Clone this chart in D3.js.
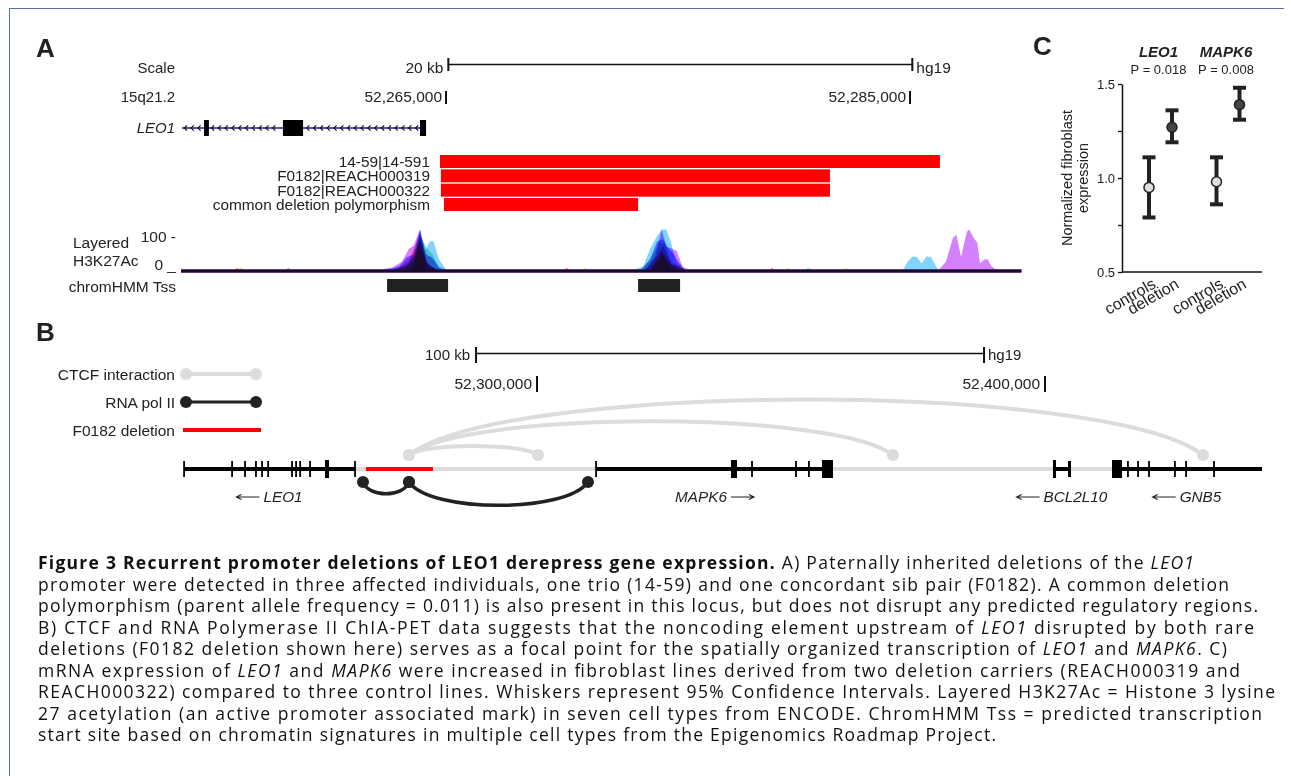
<!DOCTYPE html>
<html>
<head>
<meta charset="utf-8">
<script src="https://cdnjs.cloudflare.com/ajax/libs/d3/7.8.5/d3.min.js"></script>
<style>
  body { margin: 0; background: #fff; }
  svg { display: block; }
  text { font-family: "Liberation Sans", Arial, sans-serif; fill: #222; }
  .cap { font-family: "Open Sans", sans-serif; font-size: 17.5px; fill: #111; white-space: pre; }
</style>
</head>
<body>
<svg id="fig"></svg>
<script>
// ---------- panel A data (positions in kb on chr15) ----------
const coordTicksA = [52265, 52285];
const leo1A = [52253.62, 52264.14];
const leo1ExonsA = [[52254.57, 52254.78], [52257.97, 52258.84], [52263.88, 52264.14]];
const delLabels = ["14-59|14-591", "F0182|REACH000319", "F0182|REACH000322", "common deletion polymorphism"];
const delStart = [52264.74, 52264.78, 52264.78, 52264.91];
const delEnd = [52286.29, 52281.55, 52281.55, 52273.28];
const tssA = [[52262.46, 52265.09], [52273.28, 52275.09]];

// layered H3K27Ac, ENCODE cell types: [kb, signal]
const cellTypes = ["GM12878", "H1-hESC", "HSMM", "HUVEC", "K562", "NHEK", "NHLF"];
const cellColors = ["#ff8080", "#ffd480", "#78ebcc", "#80d4ff", "#8080ff", "#d480ff", "#ff80d4"];
const acGM12878 = [[52253.58,7],[52255.9,7],[52256.0,11],[52256.1,7],[52262.8,7],[52263.4,20],[52263.88,75],[52264.2,18],[52264.6,7],[52270.1,7],[52270.2,11],[52270.3,7],[52273.8,7],[52274.3,48],[52274.7,18],[52275.0,14],[52275.3,7],[52278.95,7],[52279.05,11],[52279.15,7],[52289.8,7]];
const acH1 = [[52253.58,7],[52256.05,7],[52256.15,11],[52256.3,7],[52263.5,7],[52263.88,55],[52264.2,8],[52264.5,7],[52270.9,7],[52271.0,11],[52271.1,7],[52273.9,7],[52274.35,40],[52274.7,7],[52279.65,7],[52279.75,11],[52279.85,7],[52282.15,7],[52282.25,11],[52282.35,7],[52289.8,7]];
const acHSMM = [[52253.58,7],[52263.2,7],[52263.6,25],[52263.88,85],[52264.2,55],[52264.45,40],[52264.7,10],[52264.9,7],[52273.5,7],[52273.9,40],[52274.2,70],[52274.45,65],[52274.7,20],[52275.0,7],[52280.5,7],[52280.6,11],[52280.75,7],[52289.8,7]];
const acHUVEC = [[52253.58,7],[52262.4,7],[52263.2,14],[52263.7,40],[52263.88,95],[52264.1,50],[52264.3,72],[52264.45,74],[52264.7,30],[52265.0,7],[52273.1,7],[52273.5,14],[52273.8,55],[52274.1,85],[52274.3,100],[52274.5,100],[52274.7,70],[52274.9,25],[52275.2,7],[52284.7,7],[52284.9,25],[52285.1,37],[52285.3,36],[52285.5,21],[52285.7,37],[52285.9,36],[52286.2,7],[52289.8,7]];
const acK562 = [[52253.58,7],[52262.6,7],[52263.0,15],[52263.3,35],[52263.6,42],[52263.88,100],[52264.15,42],[52264.4,35],[52264.7,12],[52265.0,7],[52273.4,7],[52273.8,30],[52274.1,72],[52274.35,78],[52274.6,55],[52274.8,45],[52275.0,25],[52275.3,7],[52289.8,7]];
const acNHEK = [[52253.58,7],[52262.2,7],[52262.7,12],[52263.1,25],[52263.4,55],[52263.6,62],[52263.88,100],[52264.1,30],[52264.4,10],[52264.8,7],[52273.6,7],[52274.0,35],[52274.3,100],[52274.5,60],[52274.75,55],[52274.95,50],[52275.2,12],[52275.5,7],[52286.25,7],[52286.55,25],[52286.85,80],[52287.0,88],[52287.2,36],[52287.45,95],[52287.55,100],[52287.75,80],[52287.9,69],[52288.02,21],[52288.2,30],[52288.35,31],[52288.5,15],[52288.7,7],[52289.8,7]];
const acNHLF = [[52253.58,7],[52258.1,7],[52258.2,11],[52258.3,7],[52262.9,7],[52263.4,30],[52263.88,88],[52264.2,22],[52264.6,7],[52273.6,7],[52274.1,40],[52274.35,62],[52274.7,25],[52275.0,15],[52275.3,7],[52289.8,7]];
const acSeries = [acGM12878, acH1, acHSMM, acHUVEC, acK562, acNHEK, acNHLF];

// ---------- panel B data ----------
const coordTicksB = [52300, 52400];
const geneNamesB = ["LEO1", "MAPK6", "BCL2L10", "GNB5"];
const geneStartB = [52230.51, 52311.61, 52401.57, 52413.19];
const geneEndB = [52264.17, 52358.27, 52405.12, 52442.72];
const geneStrandB = ["-", "+", "-", "-"];
const exonsB = [
  [52230.35, 52230.7], [52239.8, 52240.15], [52242.35, 52242.7], [52244.5, 52244.85], [52245.7, 52246.05],
  [52246.9, 52247.25], [52251.6, 52251.95], [52252.4, 52252.75], [52253.2, 52253.55], [52255.15, 52255.5],
  [52258.27, 52259.06], [52264.0, 52264.35],
  [52311.45, 52311.8], [52338.19, 52339.37], [52342.15, 52342.5], [52350.8, 52351.15], [52353.35, 52353.7], [52356.1, 52358.27],
  [52401.57, 52402.17], [52404.53, 52405.12],
  [52413.19, 52415.16], [52416.15, 52416.5], [52418.15, 52418.5], [52420.3, 52420.65], [52425.4, 52425.75], [52427.6, 52427.95], [52433.1, 52433.45]
];
const trackB = [52230.51, 52442.72];
const delB = [52266.34, 52279.53];
const ctcfLinks = [[52274.80, 52300.20], [52274.80, 52370.08], [52274.80, 52431.10]];
const polLinks = [[52265.75, 52274.80], [52274.80, 52310.04]];
const legendB = ["CTCF interaction", "RNA pol II", "F0182 deletion"];

// ---------- panel C data ----------
const cGenes = ["LEO1", "MAPK6"];
const cPvals = ["P = 0.018", "P = 0.008"];
const cGroups = ["controls", "deletion"];
const cMean = [0.95, 1.27, 0.98, 1.39];
const cLow = [0.79, 1.19, 0.86, 1.31];
const cHigh = [1.11, 1.36, 1.11, 1.48];
const cTicks = [0.5, 0.75, 1.0, 1.25, 1.5];

// ---------- caption ----------
const capLines = [
  [["b", "Figure 3 Recurrent promoter deletions of LEO1 derepress gene expression."], ["", " A) Paternally inherited deletions of the "], ["i", "LEO1"]],
  [["", "promoter were detected in three affected individuals, one trio (14-59) and one concordant sib pair (F0182). A common deletion"]],
  [["", "polymorphism (parent allele frequency = 0.011) is also present in this locus, but does not disrupt any predicted regulatory regions."]],
  [["", "B) CTCF and RNA Polymerase II ChIA-PET data suggests that the noncoding element upstream of "], ["i", "LEO1"], ["", " disrupted by both rare"]],
  [["", "deletions (F0182 deletion shown here) serves as a focal point for the spatially organized transcription of "], ["i", "LEO1"], ["", " and "], ["i", "MAPK6"], ["", ". C)"]],
  [["", "mRNA expression of "], ["i", "LEO1"], ["", " and "], ["i", "MAPK6"], ["", " were increased in fibroblast lines derived from two deletion carriers (REACH000319 and"]],
  [["", "REACH000322) compared to three control lines. Whiskers represent 95% Confidence Intervals. Layered H3K27Ac = Histone 3 lysine"]],
  [["", "27 acetylation (an active promoter associated mark) in seven cell types from ENCODE. ChromHMM Tss = predicted transcription"]],
  [["", "start site based on chromatin signatures in multiple cell types from the Epigenomics Roadmap Project."]]
];
const capEnds = [1194, 1229, 1258, 1254, 1227, 1240, 1275, 1262, 996];

// ================================================================
const width = 1291, height = 776;
const svg = d3.select("#fig").attr("width", width).attr("height", height);
svg.append("rect").attr("width", width).attr("height", height).attr("fill", "#fff");
svg.append("path").attr("d", "M9.5,776V8.5H1284").attr("fill", "none").attr("stroke", "#56739f");

const label = (g, txt, x, y, anchor, size, extra) => {
  const t = g.append("text").text(txt).attr("x", x).attr("y", y)
    .attr("text-anchor", anchor || "start").style("font-size", (size || 15) + "px");
  if (extra) extra(t);
  return t;
};
const bold = t => t.style("font-weight", "bold");
const ital = t => t.style("font-style", "italic");

// ---------------- Panel A ----------------
const xA = d3.scaleLinear().domain([52265, 52285]).range([446, 910]);
const yA = d3.scaleLinear().domain([0, 100]).range([272.5, 229.5]);
const gA = svg.append("g");

label(gA, "A", 36, 57, "start", 26, bold);
label(gA, "Scale", 175, 73, "end");
label(gA, "15q21.2", 175, 102, "end");
label(gA, "LEO1", 175, 133, "end", 15, ital);

// scale bar
const sb = [52265.1, 52285.1];
gA.append("line").attr("x1", xA(sb[0])).attr("x2", xA(sb[1])).attr("y1", 64.5).attr("y2", 64.5)
  .attr("stroke", "#111").attr("stroke-width", 1.5);
sb.forEach(v => gA.append("line").attr("x1", xA(v)).attr("x2", xA(v)).attr("y1", 58).attr("y2", 71)
  .attr("stroke", "#111").attr("stroke-width", 2));
label(gA, "20 kb", xA(sb[0]) - 5, 73, "end", 15.5);
label(gA, "hg19", xA(sb[1]) + 4, 73, "start", 15.5);

coordTicksA.forEach(v => {
  gA.append("line").attr("x1", xA(v)).attr("x2", xA(v)).attr("y1", 91).attr("y2", 104)
    .attr("stroke", "#111").attr("stroke-width", 2);
  label(gA, d3.format(",")(v * 1000), xA(v) - 4, 102, "end", 15.5);
});

// LEO1 gene model
gA.append("line").attr("x1", xA(leo1A[0])).attr("x2", xA(leo1A[1])).attr("y1", 128).attr("y2", 128)
  .attr("stroke", "#1a1a8c").attr("stroke-width", 1.3);
for (let x = xA(leo1A[0]) + 3; x < xA(leo1A[1]) - 3; x += 6.8) {
  const inExon = leo1ExonsA.some(e => x > xA(e[0]) - 3 && x < xA(e[1]) + 3);
  if (inExon) continue;
  gA.append("path").attr("d", `M${x + 2},${125.3}L${x - 0.8},128L${x + 2},${130.7}`)
    .attr("fill", "none").attr("stroke", "#111").attr("stroke-width", 1.1);
}
leo1ExonsA.forEach(e => gA.append("rect").attr("x", xA(e[0])).attr("width", Math.max(3, xA(e[1]) - xA(e[0])))
  .attr("y", 120).attr("height", 16).attr("fill", "#000"));

// deletions
const rowY = d3.scaleLinear().domain([0, 3]).range([155, 198]);
delLabels.forEach((d, i) => {
  gA.append("rect").attr("x", xA(delStart[i])).attr("width", xA(delEnd[i]) - xA(delStart[i]))
    .attr("y", rowY(i)).attr("height", 13).attr("fill", "#ff0000");
  label(gA, d, 430, rowY(i) + 12, "end", 15.4);
});

// layered H3K27Ac
label(gA, "Layered", 73, 248, "start", 15.5);
label(gA, "H3K27Ac", 73, 266, "start", 15.5);
label(gA, "100 -", 176, 242, "end", 15.5);
label(gA, "0 _", 176, 270, "end", 15.5);
label(gA, "chromHMM Tss", 176, 292, "end", 15.5);

const area = d3.area().x(d => xA(d[0])).y0(yA(0)).y1(d => yA(d[1])).curve(d3.curveLinear);
const gLayers = gA.append("g");
acSeries.forEach((s, i) => {
  gLayers.append("path").datum(s).attr("d", area).attr("fill", cellColors[i])
    .style("mix-blend-mode", "multiply").attr("data-cell", cellTypes[i]);
});

tssA.forEach(t => gA.append("rect").attr("x", xA(t[0])).attr("width", xA(t[1]) - xA(t[0]))
  .attr("y", 279).attr("height", 13).attr("fill", "#222"));

// ---------------- Panel B ----------------
const xB = d3.scaleLinear().domain([52300, 52400]).range([537, 1045]);
const gB = svg.append("g");
label(gB, "B", 36, 341, "start", 26, bold);

const sbB = [52288, 52388];
gB.append("line").attr("x1", xB(sbB[0])).attr("x2", xB(sbB[1])).attr("y1", 353.5).attr("y2", 353.5)
  .attr("stroke", "#111").attr("stroke-width", 1.5);
sbB.forEach(v => gB.append("line").attr("x1", xB(v)).attr("x2", xB(v)).attr("y1", 347).attr("y2", 363)
  .attr("stroke", "#111").attr("stroke-width", 2));
label(gB, "100 kb", xB(sbB[0]) - 6, 360, "end", 15);
label(gB, "hg19", xB(sbB[1]) + 4, 360, "start", 15);
coordTicksB.forEach(v => {
  gB.append("line").attr("x1", xB(v)).attr("x2", xB(v)).attr("y1", 376).attr("y2", 392)
    .attr("stroke", "#111").attr("stroke-width", 2);
  label(gB, d3.format(",")(v * 1000), xB(v) - 5, 389, "end", 15.5);
});

// legend
const legY = d3.scaleLinear().domain([0, 2]).range([374, 430]);
legendB.forEach((d, i) => label(gB, d, 175, legY(i) + 6, "end", 15.5));
gB.append("line").attr("x1", 186).attr("x2", 256).attr("y1", legY(0)).attr("y2", legY(0))
  .attr("stroke", "#dcdcdc").attr("stroke-width", 4);
[186, 256].forEach(x => gB.append("circle").attr("cx", x).attr("cy", legY(0)).attr("r", 6).attr("fill", "#dcdcdc"));
gB.append("line").attr("x1", 186).attr("x2", 256).attr("y1", legY(1)).attr("y2", legY(1))
  .attr("stroke", "#222").attr("stroke-width", 3);
[186, 256].forEach(x => gB.append("circle").attr("cx", x).attr("cy", legY(1)).attr("r", 6).attr("fill", "#222"));
gB.append("line").attr("x1", 183).attr("x2", 261).attr("y1", legY(2)).attr("y2", legY(2))
  .attr("stroke", "#ff0000").attr("stroke-width", 4);

const trackY = 469;
const arcPath = (x1, x2, y0, h) => {
  const s = x2 - x1;
  return `M${x1},${y0}C${x1 + s * 0.12},${y0 - h * 1.33} ${x2 - s * 0.12},${y0 - h * 1.33} ${x2},${y0}`;
};
const ctcfH = d3.scaleLinear().domain([0, 100]).range([0, 7]);
const polH = d3.scaleSqrt().domain([0, 100]).range([0, 17.5]);

// CTCF arcs above
ctcfLinks.forEach(l => gB.append("path")
  .attr("d", arcPath(xB(l[0]), xB(l[1]), 455, ctcfH(xB(l[1]) - xB(l[0]))))
  .attr("fill", "none").attr("stroke", "#dcdcdc").attr("stroke-width", 4));
ctcfLinks.forEach(l => [l[0], l[1]].forEach(v =>
  gB.append("circle").attr("cx", xB(v)).attr("cy", 455).attr("r", 6).attr("fill", "#dcdcdc")));

// track
gB.append("line").attr("x1", xB(trackB[0])).attr("x2", xB(trackB[1])).attr("y1", trackY).attr("y2", trackY)
  .attr("stroke", "#dcdcdc").attr("stroke-width", 4);
geneNamesB.forEach((g, i) => gB.append("line").attr("x1", xB(geneStartB[i])).attr("x2", xB(geneEndB[i]))
  .attr("y1", trackY).attr("y2", trackY).attr("stroke", "#000").attr("stroke-width", 4));
gB.append("line").attr("x1", xB(delB[0])).attr("x2", xB(delB[1])).attr("y1", trackY).attr("y2", trackY)
  .attr("stroke", "#ff0000").attr("stroke-width", 4);
exonsB.forEach(e => {
  const w = xB(e[1]) - xB(e[0]);
  const big = w > 3;
  gB.append("rect").attr("x", xB(e[0])).attr("width", Math.max(1.8, w))
    .attr("y", big ? 460 : 461).attr("height", big ? 18 : 16).attr("fill", "#000");
});

// RNA pol II arcs below
polLinks.forEach(l => gB.append("path")
  .attr("d", arcPath(xB(l[0]), xB(l[1]), 482, -polH(xB(l[1]) - xB(l[0]))))
  .attr("fill", "none").attr("stroke", "#222").attr("stroke-width", 3.5));
polLinks.forEach(l => [l[0], l[1]].forEach(v =>
  gB.append("circle").attr("cx", xB(v)).attr("cy", 482).attr("r", 6).attr("fill", "#222")));

// gene labels with strand arrows
geneNamesB.forEach((g, i) => {
  const cx = (xB(geneStartB[i]) + xB(geneEndB[i])) / 2;
  const t = label(gB, g, 0, 502, "start", 15.3, ital);
  const tw = t.node().getComputedTextLength();
  const aw = 23, gap = 4, total = aw + gap + tw;
  const left = cx - total / 2;
  let a0, a1;
  if (geneStrandB[i] === "-") {
    a0 = left; a1 = left + aw; t.attr("x", left + aw + gap);
    gB.append("path").attr("d", `M${a1},497H${a0}M${a0 + 5},494.5L${a0},497L${a0 + 5},499.5`)
      .attr("fill", "none").attr("stroke", "#222").attr("stroke-width", 1.2);
  } else {
    t.attr("x", left); a0 = left + tw + gap; a1 = a0 + aw;
    gB.append("path").attr("d", `M${a0},497H${a1}M${a1 - 5},494.5L${a1},497L${a1 - 5},499.5`)
      .attr("fill", "none").attr("stroke", "#222").attr("stroke-width", 1.2);
  }
});

// ---------------- Panel C ----------------
const gC = svg.append("g");
label(gC, "C", 1033, 55, "start", 26, bold);
const x0 = d3.scalePoint().domain(cGenes).range([1160.5, 1228]);
const x1 = d3.scalePoint().domain(cGroups).range([-11.5, 11.5]);
const yC = d3.scaleLinear().domain([0.5, 1.5]).range([272, 84]);

cGenes.forEach((g, i) => {
  label(gC, g, x0(g) - 2, 57, "middle", 15, t => t.style("font-weight", "bold").style("font-style", "italic"));
  label(gC, cPvals[i], x0(g) - 2, 74, "middle", 13);
});

const yAxis = d3.axisLeft(yC).tickValues(cTicks)
  .tickFormat(d => (Math.abs(d * 2 - Math.round(d * 2)) < 1e-9 ? d3.format(".1f")(d) : ""))
  .tickSize(4).tickSizeOuter(0).tickPadding(3);
const ga = gC.append("g").attr("transform", "translate(1122,0)").call(yAxis);
ga.attr("font-family", null).attr("font-size", null);
ga.selectAll("text").style("font-size", "13px").attr("fill", "#222");
ga.selectAll("line").attr("stroke", "#111").attr("stroke-width", 1.3);
ga.select(".domain").attr("stroke", "#111").attr("stroke-width", 1.5);
gC.append("line").attr("x1", 1122).attr("x2", 1262).attr("y1", 272).attr("y2", 272)
  .attr("stroke", "#111").attr("stroke-width", 1.5);

const title = gC.append("g");
label(title, "Normalized fibroblast", 0, 0, "middle", 14.5).attr("transform", "translate(1072,178) rotate(-90)");
label(title, "expression", 0, 0, "middle", 14.5).attr("transform", "translate(1088,178) rotate(-90)");

cGenes.forEach((g, gi) => cGroups.forEach((grp, ki) => {
  const k = gi * 2 + ki;
  const x = x0(g) + x1(grp);
  gC.append("line").attr("x1", x).attr("x2", x).attr("y1", yC(cLow[k])).attr("y2", yC(cHigh[k]))
    .attr("stroke", "#222").attr("stroke-width", 4);
  [cLow[k], cHigh[k]].forEach(v => gC.append("line").attr("x1", x - 6.5).attr("x2", x + 6.5)
    .attr("y1", yC(v)).attr("y2", yC(v)).attr("stroke", "#222").attr("stroke-width", 4));
  gC.append("circle").attr("cx", x).attr("cy", yC(cMean[k])).attr("r", 5)
    .attr("fill", ki === 0 ? "#dedede" : "#444").attr("stroke", "#222").attr("stroke-width", 1.5);
  label(gC, grp, 0, 0, "end", 16).attr("transform", `translate(${x + 8},${287}) rotate(-30)`);
}));

// ---------------- Caption ----------------
const capY = d3.scaleLinear().domain([0, 8]).range([569, 741]);
capLines.forEach((line, i) => {
  const t = svg.append("text").attr("class", "cap").attr("x", 38).attr("y", capY(i));
  line.forEach(([st, txt]) => {
    const sp = t.append("tspan").text(txt);
    if (st === "b") sp.style("font-weight", "bold");
    if (st === "i") sp.style("font-style", "italic");
  });
  t.attr("textLength", capEnds[i] - 38).attr("lengthAdjust", "spacing");
});
</script>
</body>
</html>
